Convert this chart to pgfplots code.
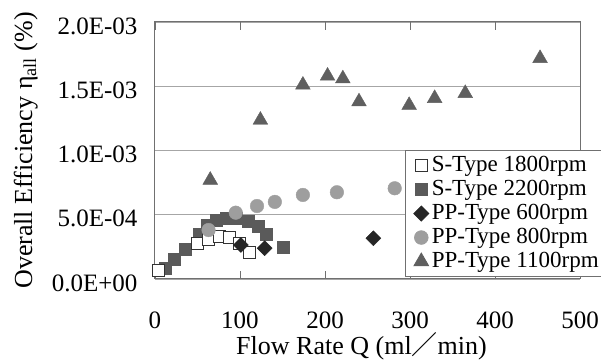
\documentclass[border=0pt]{standalone}
\usepackage{fontspec}
\setmainfont{Liberation Serif}
\newfontfamily\cjk{Noto Sans CJK JP}
\usepackage{pgfplots}
\pgfplotsset{compat=1.18}
\definecolor{sq2200}{HTML}{5A5A5A}
\definecolor{dia600}{HTML}{262626}
\definecolor{cir800}{HTML}{9E9E9E}
\definecolor{tri1100}{HTML}{5F5F5F}
\definecolor{framec}{HTML}{707070}
\definecolor{gridc}{HTML}{A6A6A6}
\pgfplotstableread{
x y
12 8.3e-5
23 1.53e-4
35 2.31e-4
52 3.48e-4
62 4.15e-4
72 4.54e-4
84 4.72e-4
96 4.72e-4
110 4.52e-4
121 4.13e-4
131 3.45e-4
151 2.51e-4
}\stwotwo
\pgfplotstableread{
x y
4 7.0e-5
50 2.75e-4
63 3.10e-4
76 3.34e-4
88 3.20e-4
99 2.75e-4
111 2.07e-4
}\soneeight
\pgfplotstableread{
x y
101 2.65e-4
129 2.40e-4
257 3.17e-4
}\ppsix
\pgfplotstableread{
x y
63 3.81e-4
95 5.16e-4
120 5.68e-4
141 6.00e-4
174 6.54e-4
214 6.75e-4
282 7.06e-4
}\ppeight
\pgfplotstableread{
x y
65 7.70e-4
124 1.237e-3
174 1.510e-3
203 1.580e-3
221 1.559e-3
240 1.380e-3
299 1.352e-3
329 1.406e-3
365 1.445e-3
453 1.717e-3
}\ppeleven
\begin{document}
\begin{tikzpicture}
\begin{axis}[
  name=ax,
  scale only axis,
  width=425pt, height=257pt,
  xmin=0, xmax=500, ymin=0, ymax=0.002,
  clip=false,
  scaled y ticks=false, scaled x ticks=false,
  xtick={0,100,200,300,400,500},
  xticklabels={0,100,200,300,400,500},
  ytick={0,0.0005,0.001,0.0015,0.002},
  yticklabels={0.0E+00,5.0E-04,1.0E-03,1.5E-03,2.0E-03},
  tick align=inside,
  major tick length=8pt,
  xtick style={framec, line width=0.8pt},
  ytick style={draw=none},
  ymajorgrids,
  grid style={gridc, line width=0.9pt},
  axis line style={framec, line width=1pt},
  tick label style={font=\fontsize{25}{25}\selectfont},
  xticklabel style={yshift=-29pt},
  yticklabel style={xshift=-14pt, yshift=-4pt},
  xlabel={Flow Rate Q (ml{\cjk ／}min)},
  ylabel={Overall Efficiency η\textsubscript{all} (\%)},
  xlabel style={font=\fontsize{26}{26}\selectfont, at={(axis description cs:0.486,-0.2957)}, anchor=base},
  ylabel style={font=\fontsize{26}{26}\selectfont, at={(axis description cs:-0.2894,0.5)}, anchor=base},
  legend style={at={(0.588,0.008)}, anchor=south west, draw=framec, line width=0.8pt, fill=white,
    font=\fontsize{23}{23}\selectfont, inner xsep=1pt, inner ysep=3.5pt, row sep=1pt,
    nodes={inner xsep=3pt, inner ysep=0pt, text height=17pt, text depth=6pt},
    /tikz/every even column/.style={column sep=0pt},
    /tikz/every odd column/.style={column sep=0pt}},
  legend cell align=left,
  legend image code/.code={\path[draw=none, fill=none] (0pt,-6pt) rectangle (22pt,6pt); \draw[#1] plot coordinates {(15pt,0pt)};},
]
% legend images in reference order
\addlegendimage{only marks, mark=square*, mark size=6pt, mark options={fill=white, draw=black!80, line width=0.8pt}}
\addlegendentry{S-Type 1800rpm}
\addlegendimage{only marks, mark=square*, mark size=6pt, mark options={fill=sq2200, draw=sq2200}}
\addlegendentry{S-Type 2200rpm}
\addlegendimage{only marks, mark=square*, mark size=5.3pt, mark options={rotate=45, fill=dia600, draw=dia600}}
\addlegendentry{PP-Type 600rpm}
\addlegendimage{only marks, mark=*, mark size=6.8pt, mark options={fill=cir800, draw=cir800}}
\addlegendentry{PP-Type 800rpm}
\addlegendimage{only marks, mark=triangle*, mark size=8.5pt, mark options={fill=tri1100, draw=tri1100}}
\addlegendentry{PP-Type 1100rpm}
% data, drawn in the reference's stacking order
\addplot[forget plot, only marks, mark=square*, mark size=6pt, mark options={fill=sq2200, draw=sq2200}] table {\stwotwo};
\addplot[forget plot, only marks, mark=square*, mark size=6pt, mark options={fill=white, draw=black!80, line width=0.8pt}] table {\soneeight};
\addplot[forget plot, only marks, mark=square*, mark size=5.3pt, mark options={rotate=45, fill=dia600, draw=dia600}] table {\ppsix};
\addplot[forget plot, only marks, mark=*, mark size=6.8pt, mark options={fill=cir800, draw=cir800}] table {\ppeight};
\addplot[forget plot, only marks, mark=triangle*, mark size=8.5pt, mark options={fill=tri1100, draw=tri1100}] table {\ppeleven};
\end{axis}
\pgfresetboundingbox
\path (ax.south west) ++(-155pt,-84pt) rectangle ++(601pt,363pt);
\end{tikzpicture}
\end{document}
